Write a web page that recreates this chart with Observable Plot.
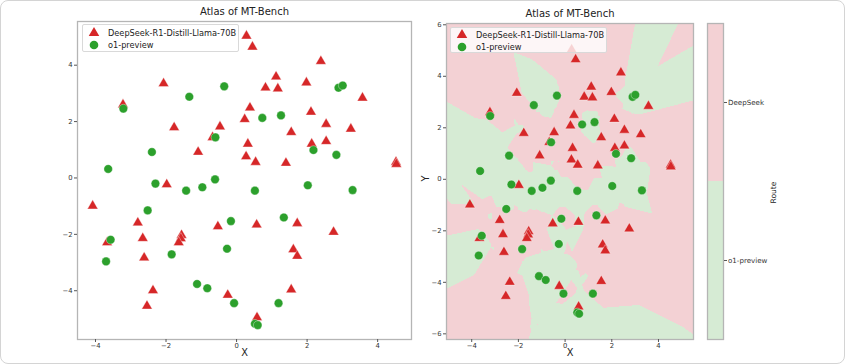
<!DOCTYPE html>
<html>
<head>
<meta charset="utf-8">
<script src="https://cdn.jsdelivr.net/npm/d3@7"></script>
<script src="https://cdn.jsdelivr.net/npm/@observablehq/plot@0.6"></script>
<style>
  html, body { margin: 0; padding: 0; background: #fff; }
  #wrap { position: relative; width: 845px; height: 364px; overflow: hidden; font-family: "DejaVu Sans", sans-serif; }
  #border { position: absolute; left: 0; top: 0; width: 845px; height: 364px; box-sizing: border-box; border: 1px solid #d4d4d4; border-radius: 8px; pointer-events: none; }
  .panel { position: absolute; top: 0; }
  .panel svg { overflow: visible; }
  .legend { position: absolute; box-sizing: border-box; background: rgba(255,255,255,0.8); border: 1px solid #d9d9d9; border-radius: 2px; font-size: 8.2px; color: #222; }
  .legend svg { position: absolute; overflow: visible; }
  .legend span { position: absolute; white-space: nowrap; }
</style>
</head>
<body>
<div id="wrap">
  <div id="left" class="panel" style="left:0px"></div>
  <div id="right" class="panel" style="left:420px"></div>
  <div id="cbar" class="panel" style="left:700px"></div>
  <div id="border"></div>
</div>
<script>
// ---------- data ----------
const seriesNames = ["DeepSeek-R1-Distill-Llama-70B", "o1-preview"];
const routeNames = ["DeepSeek", "o1-preview"];
const chartTitle = "Atlas of MT-Bench";

const deepseekPoints = [
  [0.28,5.04],[0.45,4.65],[2.39,4.14],[-2.07,3.35],[1.12,3.59],[0.82,3.20],[1.17,3.17],[1.98,3.38],
  [3.57,2.84],[-3.22,2.60],[0.38,2.49],[0.23,2.08],[2.11,2.34],[-1.77,1.79],[-0.47,1.82],[-0.68,1.44],
  [2.54,1.91],[3.24,1.74],[1.55,1.62],[0.32,1.21],[2.13,1.21],[2.54,1.30],[-1.09,0.92],[0.27,0.76],
  [0.54,0.56],[1.40,0.53],[4.52,0.56],[4.53,0.49],[-1.98,-0.23],[-4.08,-0.99],[-2.80,-1.59],[-0.53,-1.72],
  [0.57,-1.66],[1.72,-1.61],[-2.66,-2.14],[-1.56,-2.03],[-1.58,-2.15],[-1.64,-2.29],[-3.67,-2.29],[-2.62,-2.83],
  [2.75,-1.92],[1.61,-2.54],[1.72,-2.77],[-2.37,-3.99],[-2.54,-4.54],[-0.25,-4.15],[1.55,-3.96],[0.58,-4.95]
];
const o1Points = [
  [-3.21,2.46],[-1.34,2.88],[-0.35,3.25],[2.89,3.20],[3.01,3.28],[0.73,2.13],[1.26,2.22],[-0.60,1.44],
  [-2.40,0.92],[2.18,0.99],[2.83,0.82],[-3.64,0.32],[-2.30,-0.20],[-0.61,-0.05],[-1.43,-0.45],[-0.97,-0.33],
  [0.52,-0.45],[2.02,-0.26],[3.29,-0.43],[-2.52,-1.15],[-0.16,-1.53],[1.34,-1.40],[-3.57,-2.19],[-3.70,-2.96],
  [-1.84,-2.71],[-0.27,-2.51],[-1.12,-3.76],[-0.83,-3.91],[-0.07,-4.44],[1.19,-4.44],[0.52,-5.17],[0.60,-5.22]
];

const xTicks = [-4, -2, 0, 2, 4];
const yTicksLeft = [-4, -2, 0, 2, 4];
const yTicksRight = [-6, -4, -2, 0, 2, 4, 6];

// ---------- styles ----------
const RED = "#d62728", GREEN = "#2ca02c";
const PINK = "#f3d1d4", LGREEN = "#d6ebd4";
const FRAME = "#b5b5b5";
const font = {fontFamily: "DejaVu Sans, sans-serif", fontSize: "6.8px", color: "#333", background: "transparent", overflow: "visible"};

// nearest-neighbour router (k = 3) fitted on the plotted points
const train = [
  ...deepseekPoints.map(p => [p[0], p[1], 0]),
  ...o1Points.map(p => [p[0], p[1], 1])
];
function route(x, y) {
  let best = [[Infinity, 0], [Infinity, 0], [Infinity, 0]];
  for (const [px, py, c] of train) {
    const d = (px - x) ** 2 + (py - y) ** 2;
    if (d < best[2][0]) {
      best[2] = [d, c];
      best.sort((a, b) => a[0] - b[0]);
    }
  }
  const votes = best[0][1] + best[1][1] + best[2][1];
  return votes >= 2 ? routeNames[1] : routeNames[0];
}

function pointMarks() {
  return [
    Plot.dot(deepseekPoints, {x: d => d[0], y: d => d[1], symbol: "triangle", r: 3.9, fill: RED, stroke: "#fff", strokeOpacity: 0.6, strokeWidth: 0.6}),
    Plot.dot(o1Points, {x: d => d[0], y: d => d[1], symbol: "circle", r: 4.3, fill: GREEN, stroke: "#fff", strokeOpacity: 0.6, strokeWidth: 0.6})
  ];
}
function axisMarks(yt) {
  return [
    Plot.axisX({ticks: xTicks, tickSize: 3, tickPadding: 1, label: null, stroke: "#555", fill: "#333"}),
    Plot.axisY({ticks: yt, tickSize: 3, tickPadding: 2, label: null, stroke: "#555", fill: "#333"})
  ];
}

// ---------- left panel ----------
const leftPlot = Plot.plot({
  width: 420, height: 364,
  marginLeft: 77, marginRight: 9, marginTop: 21, marginBottom: 25,
  x: {domain: [-4.51, 4.96]},
  y: {domain: [-5.73, 5.55]},
  style: font,
  marks: [
    ...pointMarks(),
    Plot.frame({stroke: FRAME, strokeWidth: 1.3}),
    ...axisMarks(yTicksLeft),
    Plot.text([chartTitle], {frameAnchor: "top", dy: -14, fontSize: 10, fill: "#222"}),
    Plot.text(["X"], {frameAnchor: "bottom", dy: 16, fontSize: 9.8, fill: "#222"})
  ]
});
document.getElementById("left").append(leftPlot);

// ---------- right panel ----------
const xDomR = [-5.08, 5.5], yDomR = [-6.22, 6.05];
const rightPlot = Plot.plot({
  width: 280, height: 364,
  marginLeft: 26, marginRight: 7, marginTop: 23, marginBottom: 25,
  x: {domain: xDomR},
  y: {domain: yDomR},
  color: {domain: routeNames, range: [PINK, LGREEN]},
  style: font,
  marks: [
    Plot.raster({fill: (x, y) => route(x, y), x1: xDomR[0], x2: xDomR[1], y1: yDomR[0], y2: yDomR[1], pixelSize: 1, imageRendering: "pixelated"}),
    ...pointMarks(),
    Plot.frame({stroke: FRAME, strokeWidth: 1.3}),
    ...axisMarks(yTicksRight),
    Plot.text([chartTitle], {frameAnchor: "top", dy: -14, fontSize: 10, fill: "#222"}),
    Plot.text(["X"], {frameAnchor: "bottom", dy: 16, fontSize: 9.8, fill: "#222"}),
    Plot.text(["Y"], {frameAnchor: "left", dx: -21, rotate: -90, fontSize: 9.8, fill: "#222"})
  ]
});
document.getElementById("right").append(rightPlot);

// ---------- colour bar ----------
const cbarPlot = Plot.plot({
  width: 145, height: 364,
  marginLeft: 7, marginRight: 122, marginTop: 23, marginBottom: 25,
  y: {type: "band", domain: routeNames, padding: 0},
  color: {domain: routeNames, range: [PINK, LGREEN]},
  style: {...font, fontSize: "7.1px"},
  marks: [
    Plot.cell(routeNames, {y: d => d, fill: d => d, inset: 0}),
    Plot.frame({stroke: FRAME, strokeWidth: 1.3}),
    Plot.axisY({anchor: "right", tickSize: 3, tickPadding: 1.5, label: null, stroke: "#555", fill: "#333"}),
    Plot.text(["Route"], {frameAnchor: "right", dx: 50, rotate: -90, fontSize: 7.6, fill: "#222"})
  ]
});
document.getElementById("cbar").append(cbarPlot);

// ---------- legends ----------
function makeLegend(left, top, w, h, row1, row2) {
  const div = document.createElement("div");
  div.className = "legend";
  Object.assign(div.style, {left: left + "px", top: top + "px", width: w + "px", height: h + "px"});
  const rows = [row1, row2];
  seriesNames.forEach((name, i) => {
    const cy = rows[i];
    const sym = i === 0
      ? `<svg width="12" height="12" style="left:5px;top:${cy - 6}px"><path d="${d3.symbol(d3.symbolTriangle, Math.PI * 3.9 * 3.9)()}" transform="translate(6,6)" fill="${RED}"/></svg>`
      : `<svg width="12" height="12" style="left:5px;top:${cy - 6}px"><circle cx="6" cy="6" r="4.3" fill="${GREEN}"/></svg>`;
    div.insertAdjacentHTML("beforeend", sym + `<span style="left:25px;top:${cy - 5}px">${name}</span>`);
  });
  document.getElementById("wrap").insertBefore(div, document.getElementById("border"));
}
makeLegend(82, 24, 157, 28, 8.3, 20.3);
makeLegend(450, 27, 157, 26, 6.8, 19.3);
</script>
</body>
</html>
